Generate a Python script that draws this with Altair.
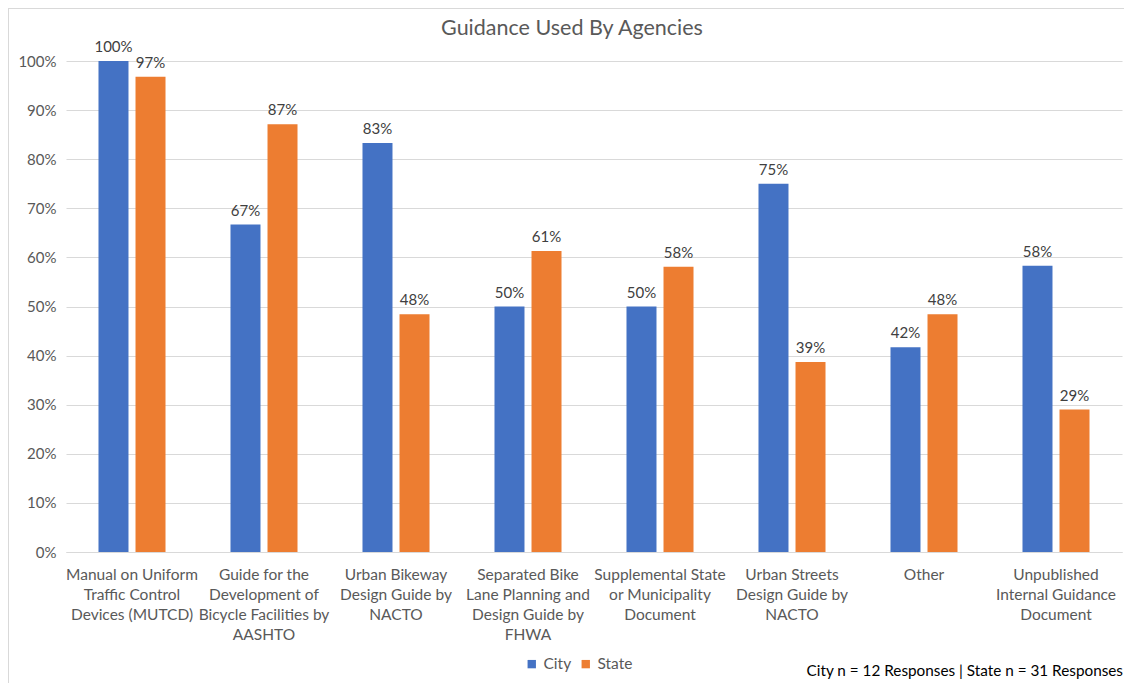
import altair as alt
import pandas as pd

categories = [
    "Manual on Uniform\nTraffic Control\nDevices (MUTCD)",
    "Guide for the\nDevelopment of\nBicycle Facilities by\nAASHTO",
    "Urban Bikeway\nDesign Guide by\nNACTO",
    "Separated Bike\nLane Planning and\nDesign Guide by\nFHWA",
    "Supplemental State\nor Municipality\nDocument",
    "Urban Streets\nDesign Guide by\nNACTO",
    "Other",
    "Unpublished\nInternal Guidance\nDocument",
]
city = [1.0, 0.667, 0.833, 0.50, 0.50, 0.75, 0.417, 0.583]
state = [0.968, 0.871, 0.484, 0.613, 0.581, 0.387, 0.484, 0.290]
series = ["City", "State"]
colors = ["#4472C4", "#ED7D31"]
title_text = "Guidance Used By Agencies"
footnote = "City n = 12 Responses | State n = 31 Responses"

rows = []
for i, c in enumerate(categories):
    rows.append({"cat": c, "series": "City", "value": city[i]})
    rows.append({"cat": c, "series": "State", "value": state[i]})
df = pd.DataFrame(rows)

FONT = "Lato"
W, H = 1056, 491

x = alt.X("cat:N", sort=categories, title=None,
          scale=alt.Scale(paddingInner=0, paddingOuter=0),
          axis=alt.Axis(labelExpr="split(datum.label, '\\n')", labelAngle=0,
                        labelFont=FONT, labelFontSize=15.5, labelColor="#595959",
                        labelLineHeight=20, labelPadding=15, labelBaseline="top",
                        ticks=False, domain=True, domainColor="#d9d9d9", domainWidth=1,
                        grid=False, labelLimit=200))
xo = alt.XOffset("series:N", sort=series,
                 scale=alt.Scale(paddingInner=0.19, paddingOuter=0.878))
y = alt.Y("value:Q", title=None,
          scale=alt.Scale(domain=[0, 1], nice=False),
          axis=alt.Axis(format=".0%", values=[i / 10 for i in range(11)],
                        labelFont=FONT, labelFontSize=15, labelColor="#595959",
                        labelPadding=10, ticks=False, domain=False,
                        gridColor="#d9d9d9", gridWidth=1))
color = alt.Color("series:N", sort=series,
                  scale=alt.Scale(domain=series, range=colors),
                  legend=alt.Legend(title=None, orient="none", direction="horizontal",
                                    legendX=458, legendY=595, symbolType="square",
                                    symbolSize=70, symbolStrokeWidth=0,
                                    labelFont=FONT, labelFontSize=15.5,
                                    labelColor="#595959", columnPadding=6,
                                    symbolOffset=0, padding=0))

base = alt.Chart(df)
bars = base.mark_bar(size=30).encode(x=x, xOffset=xo, y=y, color=color)
labels = base.mark_text(baseline="bottom", dy=-6, font=FONT, fontSize=15,
                        color="#404040").encode(
    x=x, xOffset=xo, y=y, text=alt.Text("value:Q", format=".0%"))

title = alt.Chart(pd.DataFrame({"t": [title_text]})).mark_text(
    align="center", baseline="middle", font=FONT, fontSize=21.5, color="#595959"
).encode(x=alt.value(506), y=alt.value(-32), text="t:N")

note = alt.Chart(pd.DataFrame({"t": [footnote]})).mark_text(
    align="right", baseline="alphabetic", font=FONT, fontSize=15.3, color="#000000"
).encode(x=alt.value(1057), y=alt.value(615), text="t:N")

border_left = alt.Chart(pd.DataFrame({"t": [0]})).mark_rule(
    color="#d9d9d9", strokeWidth=1).encode(
    x=alt.value(-57.5), y=alt.value(-53), y2=alt.value(640))
border_top = alt.Chart(pd.DataFrame({"t": [0]})).mark_rule(
    color="#d9d9d9", strokeWidth=1).encode(
    x=alt.value(-58), x2=alt.value(1058), y=alt.value(-52.5))

chart = alt.layer(border_left, border_top, bars, labels, title, note).properties(
    width=W, height=H,
    autosize=alt.AutoSizeParams(type="none"),
    padding={"left": 58, "top": 53, "right": 2, "bottom": 131},
).configure_view(stroke=None)

chart.save("out.html", embed_options={"renderer": "svg", "actions": False})
